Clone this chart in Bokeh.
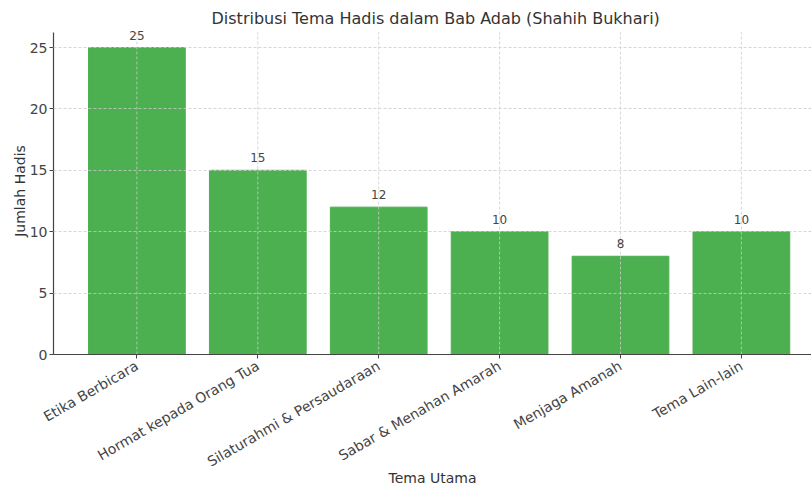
import math
from bokeh.plotting import figure
from bokeh.models import ColumnDataSource, Range1d, FixedTicker
from bokeh.core.properties import value
from bokeh.embed import file_html
from bokeh.resources import INLINE

categories = ["Etika Berbicara", "Hormat kepada Orang Tua", "Silaturahmi & Persaudaraan",
              "Sabar & Menahan Amarah", "Menjaga Amanah", "Tema Lain-lain"]
counts = [25, 15, 12, 10, 8, 10]
y_ticks = [0, 5, 10, 15, 20, 25]

FONT = "DejaVu Sans"
xs = list(range(len(categories)))
y_top = max(counts) * 1.05
src = ColumnDataSource(dict(x=xs, top=counts, lab=[str(c) for c in counts]))

p = figure(width=811, height=488, output_backend="svg", toolbar_location=None,
           x_range=Range1d(-0.69, 5.58), y_range=Range1d(0, 26.63),
           min_border_left=53, min_border_right=0, min_border_top=27, min_border_bottom=0)
p.title.text = "Distribusi Tema Hadis dalam Bab Adab (Shahih Bukhari)"
p.title.align = "left"
p.title.text_font = FONT
p.title.text_font_size = "16px"
p.title.text_font_style = "normal"
p.title.text_color = "#333333"
p.title.offset = 158
p.title.standoff = 0

p.vbar(x="x", top="top", width=0.8, source=src, fill_color="#4CAF50", line_color="#4CAF50")
# vertical grid lines (drawn over bars, limited to the axes height)
p.segment(x0=xs, y0=[0] * len(xs), x1=xs, y1=[y_top] * len(xs),
          line_color="#cccccc", line_dash="3 2", line_width=0.8)
p.text(x="x", y="top", text="lab", source=src, text_font=value(FONT), text_font_size="12px",
       text_color="#444444", text_align="center", text_baseline="bottom", y_offset=-8)

p.xaxis.ticker = FixedTicker(ticks=xs)
p.xaxis.major_label_overrides = {i: c for i, c in enumerate(categories)}
p.xaxis.major_label_orientation = math.pi / 6
p.yaxis.ticker = FixedTicker(ticks=y_ticks)
p.yaxis.bounds = (0, y_top)
for ax in (p.xaxis, p.yaxis):
    ax.major_label_text_font = FONT
    ax.major_label_text_font_size = "14px"
    ax.major_label_text_color = "#444444"
    ax.axis_label_text_font = FONT
    ax.axis_label_text_font_size = "14px"
    ax.axis_label_text_font_style = "normal"
    ax.axis_label_text_color = "#333333"
    ax.axis_line_color = "#444444"
    ax.axis_line_width = 1.2
    ax.major_tick_line_color = "#444444"
    ax.major_tick_out = 4
    ax.major_tick_in = 0
    ax.minor_tick_line_color = None
p.yaxis.axis_label = "Jumlah Hadis"
p.yaxis.major_label_standoff = 2
p.yaxis.axis_label_standoff = -1
p.xaxis.axis_label = "Tema Utama"
p.xaxis.major_label_standoff = 6
p.xaxis.axis_label_standoff = -10

p.xgrid.grid_line_color = None
p.ygrid.grid_line_color = "#cccccc"
p.ygrid.grid_line_dash = "3 2"
p.ygrid.grid_line_width = 0.8
p.ygrid.level = "overlay"
p.outline_line_color = None

open("out.html", "w").write(file_html(p, INLINE))
